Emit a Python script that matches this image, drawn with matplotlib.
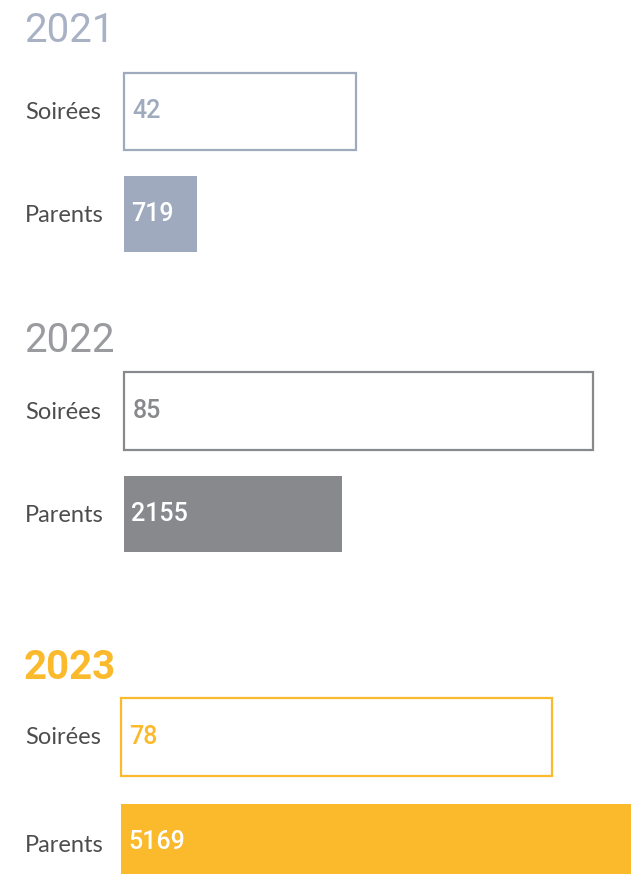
import matplotlib
matplotlib.use("Agg")
import matplotlib.pyplot as plt

# ---- data ----
years = ["2021", "2022", "2023"]
categories = ["Soirées", "Parents"]
soirees = [42, 85, 78]
parents = [719, 2155, 5169]

# ---- style ----
colors = ["#9FAABE", "#88898C", "#FBB92C"]
title_colors = ["#A9B2C5", "#9A9B9E", "#FBB92C"]
title_weights = ["normal", "normal", "bold"]
label_color = "#4D4D4D"

W, H = 631, 874
fig = plt.figure(figsize=(W / 100, H / 100), dpi=100)
fig.patch.set_facecolor("white")

# layout (pixels from top-left)
bar_left = [124, 124, 121]
title_y = [31, 341, 668]
soiree_y = [(73, 150), (372, 450), (698, 776)]
parent_y = [(176, 252), (476, 552), (804, 880)]
S_PX = 5.52   # pixels per soirée
P_PX = 0.101  # pixels per parent


def bar_axes(left, top, bottom, scale):
    ax = fig.add_axes([left / W, 1 - bottom / H, (W - left) / W, (bottom - top) / H])
    ax.set_xlim(0, (W - left) / scale)
    ax.set_ylim(-0.5, 0.5)
    ax.axis("off")
    return ax


for i, yr in enumerate(years):
    col = colors[i]
    fig.text(24 / W, 1 - title_y[i] / H, yr, color=title_colors[i], fontsize=29,
             fontfamily="Roboto", fontweight=title_weights[i],
             ha="left", va="center")

    # Soirées (outlined)
    t, b = soiree_y[i]
    ax = bar_axes(bar_left[i], t, b, S_PX)
    ax.barh(0, soirees[i], height=1, left=0, facecolor="white",
            edgecolor=col, linewidth=1.6, clip_on=False)
    ax.annotate(str(soirees[i]), xy=(0, 0), xytext=(6, 0),
                textcoords="offset points", color=col, fontsize=18,
                fontfamily="Roboto", fontweight="medium", ha="left", va="center")
    fig.text(25 / W, 1 - ((t + b) / 2 + 1) / H, categories[0], color=label_color,
             fontsize=17, fontfamily="Lato", fontweight="normal",
             ha="left", va="center")

    # Parents (filled)
    t, b = parent_y[i]
    ax = bar_axes(bar_left[i], t, b, P_PX)
    ax.barh(0, parents[i], height=1, left=0, color=col, linewidth=0)
    ax.annotate(str(parents[i]), xy=(0, 0), xytext=(5, 0),
                textcoords="offset points", color="white", fontsize=18,
                fontfamily="Roboto", fontweight="medium", ha="left", va="center")
    lab_c = (t + b) / 2 + 1 if i < 2 else 845
    fig.text(25 / W, 1 - lab_c / H, categories[1], color=label_color,
             fontsize=17, fontfamily="Lato", fontweight="normal",
             ha="left", va="center")

fig.savefig("out.png", dpi=100, facecolor="white")
